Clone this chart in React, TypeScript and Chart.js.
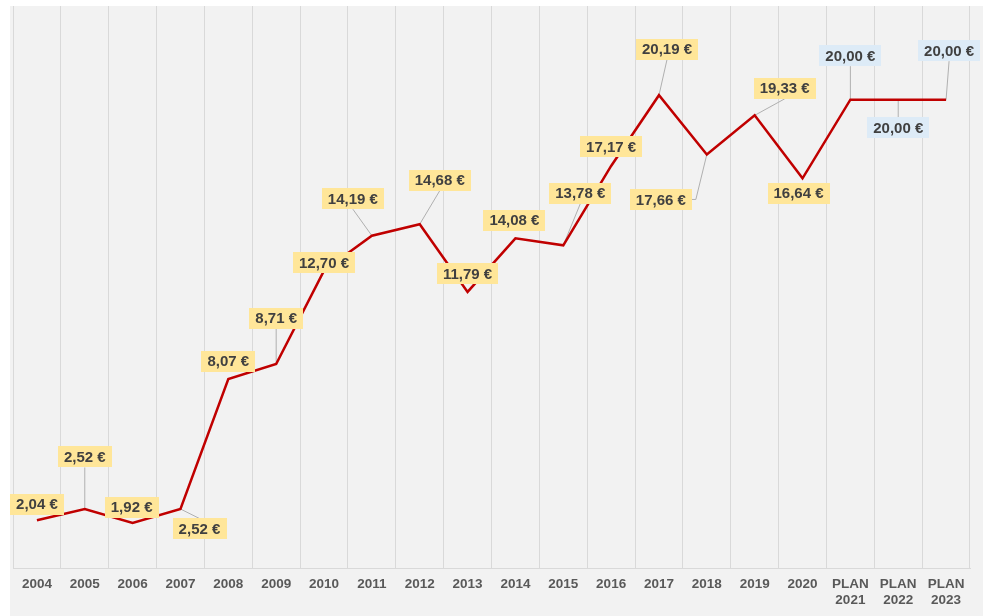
import React, { useEffect, useRef } from "react";
import { Chart, registerables } from "chart.js";

Chart.register(...registerables);

const categories: (string | string[])[] = [
  "2004", "2005", "2006", "2007", "2008", "2009", "2010", "2011", "2012", "2013",
  "2014", "2015", "2016", "2017", "2018", "2019", "2020",
  ["PLAN", "2021"], ["PLAN", "2022"], ["PLAN", "2023"],
];

const values = [
  2.04, 2.52, 1.92, 2.52, 8.07, 8.71, 12.7, 14.19, 14.68, 11.79,
  14.08, 13.78, 17.17, 20.19, 17.66, 19.33, 16.64, 20.0, 20.0, 20.0,
];

// label box centre offset from its point (px)
const labelOffsets: [number, number][] = [
  [0, -16], [0, -52], [-1, -16], [19, 20], [0, -18], [0, -46], [0, -8], [-19, -37],
  [20, -44], [0, -18], [-1, -18], [17, -52], [0, -19], [8, -46], [-46, 45], [30, -27],
  [-4, 15], [0, -44], [0, 28], [3, -49],
];

const FONT = '"Liberation Sans", Arial, sans-serif';

const fmt = (v: number) => v.toFixed(2).replace(".", ",") + " €";

function boxGeom(ctx: CanvasRenderingContext2D, i: number, px: number, py: number) {
  ctx.font = `bold 15px ${FONT}`;
  const text = fmt(values[i]);
  const w = ctx.measureText(text).width + 12;
  const h = 21;
  const [dx, dy] = labelOffsets[i];
  return { text, w, h, dx, dy, cx: px + dx, cy: py + dy };
}

const bgPlugin = {
  id: "bgFill",
  beforeDraw(chart: any) {
    const ctx = chart.ctx;
    ctx.save();
    ctx.fillStyle = "#f2f2f2";
    ctx.fillRect(10, 6, chart.width - 10, chart.height - 6);
    ctx.restore();
  },
};

const labelPlugin = {
  id: "valueLabels",
  beforeDatasetsDraw(chart: any) {
    const ctx = chart.ctx as CanvasRenderingContext2D;
    const meta = chart.getDatasetMeta(0);
    ctx.save();
    ctx.strokeStyle = "#b0b0b0";
    ctx.lineWidth = 1;
    meta.data.forEach((pt: any, i: number) => {
      const g = boxGeom(ctx, i, pt.x, pt.y);
      if (Math.hypot(g.dx, g.dy) <= 24) return;
      ctx.beginPath();
      ctx.moveTo(pt.x, pt.y);
      if (Math.abs(g.dx) > g.w / 2) {
        const edgeX = g.dx < 0 ? g.cx + g.w / 2 : g.cx - g.w / 2;
        const stubX = g.dx < 0 ? edgeX + 4 : edgeX - 4;
        ctx.lineTo(stubX, g.cy);
        ctx.lineTo(edgeX, g.cy);
      } else {
        const ey = g.dy < 0 ? g.cy + g.h / 2 : g.cy - g.h / 2;
        ctx.lineTo(g.cx, ey);
      }
      ctx.stroke();
    });
    ctx.restore();
  },
  afterDatasetsDraw(chart: any) {
    const ctx = chart.ctx as CanvasRenderingContext2D;
    const meta = chart.getDatasetMeta(0);
    ctx.save();
    meta.data.forEach((pt: any, i: number) => {
      const g = boxGeom(ctx, i, pt.x, pt.y);
      const plan = Array.isArray(categories[i]);
      ctx.fillStyle = plan ? "#ddebf7" : "#ffe699";
      ctx.fillRect(Math.round(g.cx - g.w / 2), Math.round(g.cy - g.h / 2), Math.round(g.w), g.h);
      ctx.fillStyle = "#404040";
      ctx.textAlign = "center";
      ctx.textBaseline = "middle";
      ctx.fillText(g.text, g.cx, g.cy + 1);
    });
    ctx.restore();
  },
};

export default function App() {
  const ref = useRef<HTMLCanvasElement | null>(null);
  useEffect(() => {
    if (!ref.current) return;
    Chart.defaults.font.family = FONT;
    const chart = new Chart(ref.current, {
      type: "line",
      data: {
        labels: categories as any,
        datasets: [
          {
            data: values,
            borderColor: "#c00000",
            borderWidth: 2.5,
            pointRadius: 0,
            tension: 0,
            fill: false,
          },
        ],
      },
      options: {
        responsive: false,
        animation: false,
        layout: { padding: { left: 13, right: 13, top: 6, bottom: 0 } },
        plugins: { legend: { display: false }, tooltip: { enabled: false } },
        scales: {
          x: {
            offset: true,
            grid: { color: "#d9d9d9", offset: true, drawTicks: false, lineWidth: 1 },
            border: { color: "#d9d9d9" },
            ticks: {
              color: "#595959",
              font: { size: 13.5, weight: "bold", lineHeight: 1.15 },
              padding: 9,
              maxRotation: 0,
              autoSkip: false,
            },
            afterFit: (scale: any) => {
              scale.height = 48;
            },
          },
          y: { display: false, min: 0, max: 24 },
        },
      },
      plugins: [bgPlugin, labelPlugin],
    });
    return () => chart.destroy();
  }, []);
  return (
    <div style={{ position: "fixed", left: 0, top: 0, width: 983, height: 616, background: "#fff" }}>
      <canvas ref={ref} width={983} height={616} />
    </div>
  );
}
